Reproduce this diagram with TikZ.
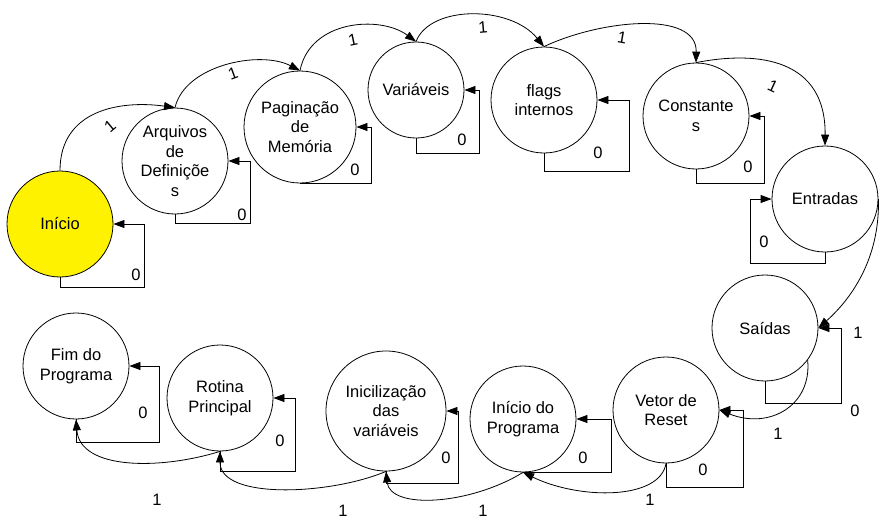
\documentclass[tikz,border=0pt]{standalone}
\usepackage{fontspec}
\setmainfont{Liberation Sans}
\usetikzlibrary{arrows.meta}
\begin{document}
\begin{tikzpicture}[x=1pt,y=-1pt,
  st/.style={circle,draw,line width=0.8pt,minimum size=106pt,inner sep=0pt,align=center,font=\fontsize{16.5}{19.5}\selectfont},
  arr/.style={line width=0.8pt,-{Triangle[length=11pt,width=8pt]}},
  lbl/.style={font=\fontsize{16.5}{19.5}\selectfont,inner sep=0pt}]
\useasboundingbox (0,0) rectangle (881,520);
% states
\node[st,fill=yellow] (ini) at (60,224) {Início};
\node[st] (arq) at (175,161) {Arquivos\\de\\Definiçõe\\s};
\node[st,minimum size=112pt] (pag) at (300,127) {Paginação\\de\\Memória};
\node[st,minimum size=96pt] (var) at (416,90) {Variáveis};
\node[st] (flg) at (544,100) {flags\\internos};
\node[st] (con) at (696,116) {Constante\\s};
\node[st] (ent) at (825,199) {Entradas};
\node[st] (sai) at (765,328) {Saídas};
\node[st] (vet) at (666,410) {Vetor de\\Reset};
\node[st] (ipr) at (523,419) {Início do\\Programa};
\node[st,minimum size=120pt] (inv) at (386,411) {Inicilização\\das\\variáveis};
\node[st] (rot) at (220,398) {Rotina\\Principal};
\node[st] (fim) at (76,366) {Fim do\\Programa};
% self loops (0)
\draw[arr] (ini.south) |- (144,287) |- (ini.east);
\draw[arr] (arq.south) |- (250,223) |- (arq.east);
\draw[arr] (pag.south) |- (371,183) |- (pag.east);
\draw[arr] (var.south) |- (479,153) |- (var.east);
\draw[arr] (flg.south) |- (629,171) |- (flg.east);
\draw[arr] (con.south) |- (764,183) |- (con.east);
\draw[arr] (ent.south) |- (750,263) |- (ent.west);
\draw[arr] (sai.south) |- (841,403) |- (sai.east);
\draw[arr] (vet.south) |- (743,487) |- (vet.east);
\draw[arr] (ipr.south) |- (611,472) |- (ipr.east);
\draw[arr] (inv.south) |- (458,483) |- (inv.east);
\draw[arr] (rot.south) |- (295,471) |- (rot.east);
\draw[arr] (fim.south) |- (159,442) |- (fim.east);
% transitions (1)
\draw[arr] (ini.north) .. controls (60,110) and (120,100) .. (arq.north);
\draw[arr] (arq.north) .. controls (185,65) and (260,50) .. (pag.north);
\draw[arr] (pag.north) .. controls (310,20) and (380,15) .. (var.north);
\draw[arr] (var.north) .. controls (430,5) and (510,5) .. (flg.north);
\draw[arr] (flg.north) .. controls (600,20) and (697,10) .. (con.north);
\draw[arr] (con.north) .. controls (760,50) and (826,60) .. (ent.north);
\draw[arr] (ent.east) .. controls (880,260) and (850,300) .. (sai.east);
\draw[arr] (sai.-37) .. controls (812,405) and (770,430) .. (vet.east);
\draw[arr] (vet.south) .. controls (660,500) and (580,500) .. (ipr.south);
\draw[arr] (ipr.south) .. controls (470,505) and (390,510) .. (inv.south);
\draw[arr] (inv.south) .. controls (330,495) and (220,500) .. (rot.south);
\draw[arr] (rot.south) .. controls (160,470) and (80,470) .. (fim.south);
% labels 0
\node[lbl] (z1) at (136,275) {0};
\node[lbl] (z2) at (242,215) {0};
\node[lbl] (z3) at (355,170) {0};
\node[lbl] (z4) at (462,140) {0};
\node[lbl] (z5) at (598,153) {0};
\node[lbl] (z6) at (748,167) {0};
\node[lbl] (z7) at (764,242) {0};
\node[lbl] (z8) at (855,411) {0};
\node[lbl] (z9) at (703,470) {0};
\node[lbl] (z10) at (583,458) {0};
\node[lbl] (z11) at (446,458) {0};
\node[lbl] (z12) at (280,441) {0};
\node[lbl] (z13) at (143,413) {0};
% labels 1
\node[lbl,rotate=40] (o1) at (110,126) {1};
\node[lbl,rotate=20] (o2) at (233,74) {1};
\node[lbl,rotate=12] (o3) at (353,40) {1};
\node[lbl,rotate=5] (o4) at (483,27) {1};
\node[lbl,rotate=-10] (o5) at (622,38) {1};
\node[lbl,rotate=-25] (o6) at (773,86) {1};
\node[lbl] (o7) at (858,333) {1};
\node[lbl] (o8) at (778,434) {1};
\node[lbl] (o9) at (650,500) {1};
\node[lbl] (o10) at (483,511) {1};
\node[lbl] (o11) at (343,511) {1};
\node[lbl] (o12) at (157,500) {1};
\end{tikzpicture}
\end{document}
